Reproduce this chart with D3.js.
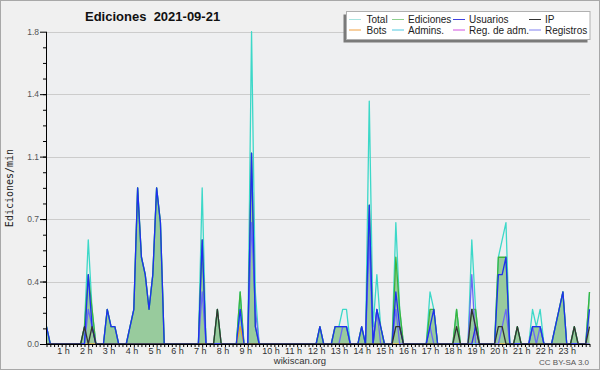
<!DOCTYPE html>
<html>
<head>
<meta charset="utf-8">
<script src="https://cdn.jsdelivr.net/npm/d3@7"></script>
<style>
body { margin: 0; background: #fff; }
svg { display: block; font-family: "Liberation Sans", Arial, sans-serif; }
</style>
</head>
<body>
<div id="chart"></div>
<script>
// Chart texts
const title = "Ediciones  2021-09-21";
const yLabel = "Ediciones/min";
const hourLabels = ["1 h","2 h","3 h","4 h","5 h","6 h","7 h","8 h","9 h","10 h","11 h","12 h",
  "13 h","14 h","15 h","16 h","17 h","18 h","19 h","20 h","21 h","22 h","23 h"];
const yTicks = [0, 0.36, 0.72, 1.08, 1.44, 1.8];
const yTickLabels = ["0.0", "0.4", "0.7", "1.1", "1.4", "1.8"];
const legendNames = ["Total", "Ediciones", "Usuarios", "IP", "Bots", "Admins.", "Reg. de adm.", "Registros"];

// Values per 10 minutes (edits/min), one row = 2 hours
const total = [
  .1,0,0,0,0,0, 0,0,0,0,.1,.6,
  .2,0,0,0,.2,.1, .1,0,0,0,.1,.2,
  .9,.5,.4,.2,.4,.9, .7,0,0,0,0,0,
  0,0,0,0,0,.9, 0,0,0,.2,0,0,
  0,0,0,.3,0,0, 1.8,.3,0,0,0,0,
  0,0,0,0,0,0, 0,0,0,0,0,0,
  .1,0,0,0,.1,.1, .2,.2,0,0,0,.1,
  0,1.4,.1,.4,.1,0, 0,0,.7,.2,0,0,
  0,0,0,0,0,.3, .2,0,0,0,0,0,
  .2,0,0,0,.6,.2, 0,0,0,0,0,.5,
  .6,.7,0,0,.1,0, 0,0,.2,.1,.2,0,
  0,0,.1,.2,.3,0, 0,.1,0,0,0,.3
];
const ediciones = [
  .1,0,0,0,0,0, 0,0,0,0,.1,.4,
  .2,0,0,0,.2,.1, .1,0,0,0,.1,.2,
  .9,.5,.4,.2,.4,.9, .7,0,0,0,0,0,
  0,0,0,0,0,.6, 0,0,0,.2,0,0,
  0,0,0,.3,0,0, 1.1,.1,0,0,0,0,
  0,0,0,0,0,0, 0,0,0,0,0,0,
  .1,0,0,0,.1,.1, .1,.1,0,0,0,.1,
  0,.8,0,.2,.1,0, 0,0,.5,.2,0,0,
  0,0,0,0,0,.2, .2,0,0,0,0,0,
  .2,0,0,0,.2,.2, 0,0,0,0,0,.5,
  .5,.5,0,0,.1,0, 0,0,.1,.1,.1,0,
  0,0,.1,.2,.3,0, 0,.1,0,0,0,.3
];
const usuarios = [
  .1,0,0,0,0,0, 0,0,0,0,0,.4,
  .1,0,0,0,.2,.1, .1,0,0,0,.1,.2,
  .9,.5,.4,.2,.4,.9, .7,0,0,0,0,0,
  0,0,0,0,0,.6, 0,0,0,0,0,0,
  0,0,0,.2,0,0, 1.1,.1,0,0,0,0,
  0,0,0,0,0,0, 0,0,0,0,0,0,
  .1,0,0,0,.1,.1, .1,.1,0,0,0,.1,
  0,.8,0,.2,.1,0, 0,0,.3,.1,0,0,
  0,0,0,0,0,.1, .2,0,0,0,0,0,
  0,0,0,0,0,.1, 0,0,0,0,0,.4,
  .4,.5,0,0,0,0, 0,0,.1,.1,.1,0,
  0,0,.1,.2,.3,0, 0,0,0,0,0,.2
];
const ip = [
  0,0,0,0,0,0, 0,0,0,0,.1,0,
  .1,0,0,0,0,0, 0,0,0,0,0,0,
  0,0,0,0,0,0, 0,0,0,0,0,0,
  0,0,0,0,0,0, 0,0,0,.2,0,0,
  0,0,0,0,0,0, 0,0,0,0,0,0,
  0,0,0,0,0,0, 0,0,0,0,0,0,
  0,0,0,0,0,0, 0,0,0,0,0,0,
  0,0,0,0,0,0, 0,0,.1,.1,0,0,
  0,0,0,0,0,0, 0,0,0,0,0,0,
  .1,0,0,0,.2,.1, 0,0,0,0,0,.1,
  .1,0,0,0,.1,0, 0,0,0,0,0,0,
  0,0,0,0,0,0, 0,.1,0,0,0,.1
];
const bots = [
  0,0,0,0,0,0, 0,0,0,0,0,0,
  0,0,0,0,0,0, 0,0,0,0,0,0,
  0,0,0,0,0,0, 0,0,0,0,0,0,
  0,0,0,0,0,0, 0,0,0,0,0,0,
  0,0,0,.1,0,0, 0,0,0,0,0,0,
  0,0,0,0,0,0, 0,0,0,0,0,0,
  0,0,0,0,0,0, 0,0,0,0,0,0,
  0,0,0,0,0,0, 0,0,0,0,0,0,
  0,0,0,0,0,0, 0,0,0,0,0,0,
  0,0,0,0,0,.1, 0,0,0,0,0,0,
  0,0,0,0,0,0, 0,0,0,0,0,0,
  0,0,0,0,0,0, 0,0,0,0,0,0
];
const admins = [
  0,0,0,0,0,0, 0,0,0,0,0,0,
  0,0,0,0,0,0, 0,0,0,0,0,0,
  0,0,0,0,0,0, 0,0,0,0,0,0,
  0,0,0,0,0,0, 0,0,0,0,0,0,
  0,0,0,.2,0,0, 0,0,0,0,0,0,
  0,0,0,0,0,0, 0,0,0,0,0,0,
  0,0,0,0,0,0, 0,0,0,0,0,0,
  0,0,0,0,0,0, 0,0,0,0,0,0,
  0,0,0,0,0,0, 0,0,0,0,0,0,
  0,0,0,0,0,0, 0,0,0,0,0,0,
  0,0,0,0,0,0, 0,0,0,0,0,0,
  0,0,0,0,0,0, 0,0,0,0,0,0
];
const registros = [
  0,0,0,0,0,0, 0,0,0,0,0,.2,
  .1,0,0,0,0,0, 0,0,0,0,0,0,
  0,0,0,0,0,0, 0,0,0,0,0,0,
  0,0,0,0,0,.3, 0,0,0,0,0,0,
  0,0,0,0,0,0, .7,.2,0,0,0,0,
  0,0,0,0,0,0, 0,0,0,0,0,0,
  0,0,0,0,0,0, .1,.1,0,0,0,0,
  0,.6,0,.2,0,0, 0,0,.2,0,0,0,
  0,0,0,0,0,.1, 0,0,0,0,0,0,
  0,0,0,0,.4,0, 0,0,0,0,0,0,
  .1,.2,0,0,0,0, 0,0,.1,0,.1,0,
  0,0,0,0,0,0, 0,0,0,0,0,0
];

const colors = {
  total: "#3cd8c8", ediciones: "#3cb43c", edFill: "#92c898", usuarios: "#1f2ff0",
  ip: "#333333", bots: "#f0a030", admins: "#30c4dc", registros: "#6a6af4"
};
const legendColors = ["#a8e4e0", "#8ed08e", "#4040e0", "#333333", "#f0a040", "#50c8e0", "#d050e0", "#8080f0"];

const W = 600, H = 370;
const svg = d3.select("#chart").append("svg").attr("width", W).attr("height", H);

svg.append("rect").attr("x", 0.5).attr("y", 0.5).attr("width", W - 1).attr("height", H - 1)
  .attr("fill", "#f0f0f0").attr("stroke", "#a8a8a8");

const x = d3.scaleLinear().domain([0, total.length - 1]).range([46.5, 589.5]);
const y = d3.scaleLinear().domain([0, 1.8]).range([344, 31.7]);

// Plot background
svg.append("rect").attr("x", 46).attr("y", y(1.8)).attr("width", 544).attr("height", 344 - y(1.8))
  .attr("fill", "#eeeff1");

// Grid
svg.append("g").selectAll("line").data(yTicks.slice(1)).join("line")
  .attr("x1", 46).attr("x2", 590)
  .attr("y1", d => Math.round(y(d)) + 0.5).attr("y2", d => Math.round(y(d)) + 0.5)
  .attr("stroke", "#cccccc");

// Ediciones area
const area = d3.area().x((d, i) => x(i)).y0(y(0)).y1(d => y(d));
svg.append("path").datum(ediciones).attr("d", area).attr("fill", colors.edFill).attr("fill-opacity", 0.95);

const line = d3.line().x((d, i) => x(i)).y(d => y(d));
const series = [
  [total, colors.total],
  [ediciones, colors.ediciones],
  [admins, colors.admins],
  [bots, colors.bots],
  [registros, colors.registros],
  [usuarios, colors.usuarios],
  [ip, colors.ip]
];
series.forEach(([data, c]) => {
  svg.append("path").datum(data).attr("d", line)
    .attr("fill", "none").attr("stroke", c).attr("stroke-width", 1.3).attr("stroke-linejoin", "round");
});

// Y axis
const yAxis = svg.append("g").attr("transform", "translate(46,0)")
  .call(d3.axisLeft(y).tickValues(yTicks).tickFormat((d, i) => yTickLabels[i]).tickSize(6).tickPadding(1));
svg.append("g").attr("transform", "translate(46,0)")
  .call(d3.axisLeft(y).tickValues(d3.range(0, 1.8, 0.09)).tickFormat("").tickSize(3))
  .select(".domain").remove();
yAxis.selectAll("text").style("font-size", "8.5px").style("font-family", "Liberation Sans, Arial, sans-serif")
  .attr("fill", "#555");
yAxis.select(".domain").attr("d", `M0.5,${y(1.8)}V344.5`);

// X axis
const xAxis = svg.append("g").attr("transform", "translate(0,344)")
  .call(d3.axisBottom(x).tickValues(d3.range(total.length)).tickFormat("").tickSize(3));
xAxis.select(".domain").attr("d", "M46,0.5H590");
svg.append("g").selectAll("text").data(hourLabels).join("text")
  .attr("x", (d, i) => x((i + 1) * 6) - 12).attr("y", 353.5)
  .style("font-size", "9px").attr("fill", "#333").text(d => d);

// Titles
svg.append("text").attr("x", 85).attr("y", 21).style("font-size", "13px").attr("font-weight", "bold")
  .style("white-space", "pre").attr("fill", "#111").text(title);
svg.append("text").attr("transform", "translate(13,188) rotate(-90)").attr("text-anchor", "middle")
  .style("font-family", "DejaVu Sans Mono, monospace").style("font-size", "10px").attr("fill", "#222").text(yLabel);
svg.append("text").attr("x", 300).attr("y", 364).attr("text-anchor", "middle")
  .style("font-size", "9.5px").attr("fill", "#333").text("wikiscan.org");
svg.append("text").attr("x", 589).attr("y", 364.5).attr("text-anchor", "end")
  .style("font-size", "8px").attr("fill", "#555").text("CC BY-SA 3.0");

// Legend
const lg = svg.append("g");
lg.append("rect").attr("x", 343.5).attr("y", 14.5).attr("width", 244).attr("height", 28).attr("fill", "#7a7a7a");
lg.append("rect").attr("x", 346.5).attr("y", 11.5).attr("width", 243.5).attr("height", 28)
  .attr("fill", "#fff").attr("stroke", "#b0b0b0");
const colX = [349, 392, 453, 529];
const textX = [366.5, 408, 469, 545];
legendNames.forEach((name, i) => {
  const col = i % 4, row = Math.floor(i / 4);
  const ly = 19.5 + row * 10.5;
  lg.append("line").attr("x1", colX[col]).attr("x2", colX[col] + 12).attr("y1", ly).attr("y2", ly)
    .attr("stroke", legendColors[i]).attr("stroke-width", 1);
  lg.append("text").attr("x", textX[col]).attr("y", ly + 3.5).style("font-size", "10px").attr("fill", "#222").text(name);
});
</script>
</body>
</html>
